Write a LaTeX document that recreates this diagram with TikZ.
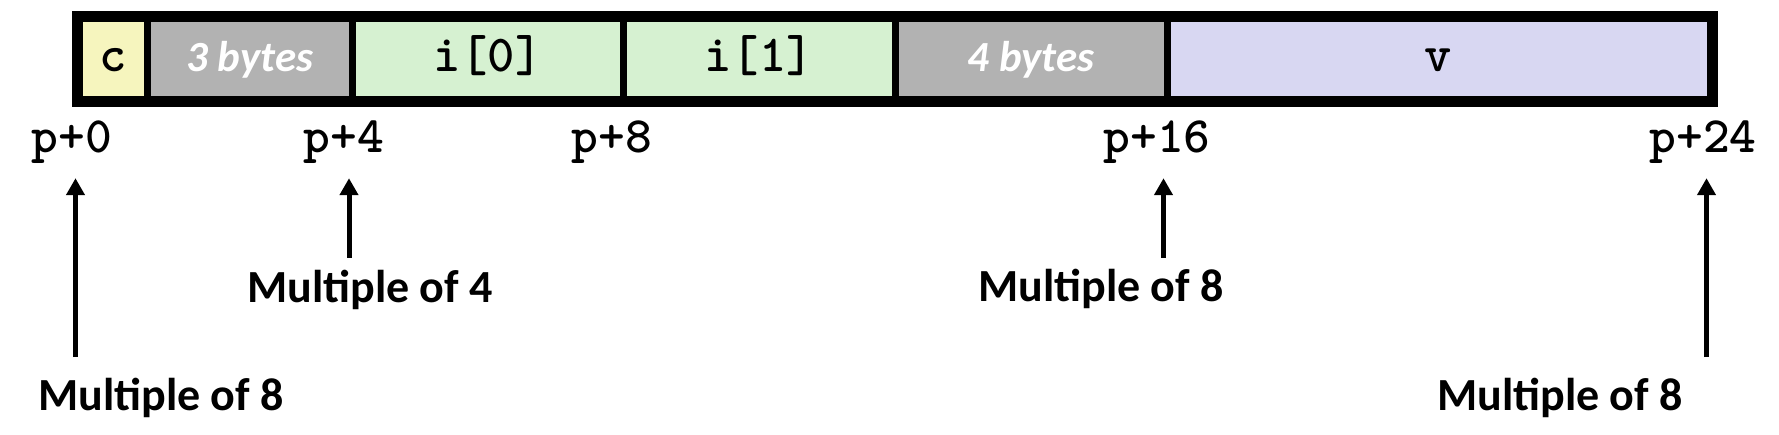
\documentclass[tikz,border=0pt]{standalone}
\usepackage{fontspec}
\usepackage{xcolor}
\usepackage{tikz}
\usetikzlibrary{positioning,calc,arrows.meta}
\newfontfamily\labelfont{Carlito}
\definecolor{charfill}{RGB}{246,245,190}
\definecolor{intfill}{RGB}{214,241,209}
\definecolor{dblfill}{RGB}{216,215,242}
\definecolor{padfill}{RGB}{178,178,178}

\tikzset{
  cell/.style={draw=black, line width=7pt, minimum height=81pt, inner sep=0pt,
    anchor=west, text height=34pt, text depth=8pt},
  celltext/.style={font=\ttfamily\bfseries\fontsize{52}{60}\selectfont},
  padtext/.style={font=\labelfont\bfseries\itshape\fontsize{43}{50}\selectfont, text=white},
  offset/.style={font=\ttfamily\bfseries\fontsize{51}{60}\selectfont, anchor=base,
    text depth=8pt, inner ysep=17pt, inner xsep=0pt},
  note/.style={font=\labelfont\bfseries\fontsize{46}{54}\selectfont, anchor=base west, inner sep=0pt},
  ptr/.style={-{Triangle[width=18pt,length=17pt]}, line width=5pt},
}

\begin{document}
\begin{tikzpicture}[x=1pt,y=-1pt]
    \useasboundingbox (0,0) rectangle (1779,435);

    % Struct fields
    \node[cell, celltext, fill=charfill, minimum width=68pt] (c) at (75.5,59) {c};
    \node[cell, padtext, fill=padfill, minimum width=205.5pt] (pad3) at (143.5,59) {3 bytes};
    \node[cell, celltext, fill=intfill, minimum width=270.5pt] (i0) at (349,59) {i[0]};
    \node[cell, celltext, fill=intfill, minimum width=272pt] (i1) at (619.5,59) {i[1]};
    \node[cell, padtext, fill=padfill, minimum width=272pt] (pad4) at (891.5,59) {4 bytes};
    \node[cell, celltext, fill=dblfill, minimum width=543pt] (v) at (1163.5,59) {v};

    % Outer frame
    \draw[line width=8pt] (c.north west) rectangle (v.south east);

    % Offsets
    \node[offset] (p0) at (72,153) {p+0};
    \node[offset] (p4) at (344,153) {p+4};
    \node[offset] (p8) at (612,153) {p+8};
    \node[offset] (p16) at (1157,153) {p+16};
    \node[offset] (p24) at (1703,153) {p+24};

    % Alignment notes
    \node[note] (m0) at (38,410) {Multiple of 8};
    \node[note] (m4) at (247,303) {Multiple of 4};
    \node[note] (m16) at (978,302) {Multiple of 8};
    \node[note] (m24) at (1437,410) {Multiple of 8};

    \coordinate (t0) at (75.5,357);
    \coordinate (t4) at (349,258);
    \coordinate (t16) at (1163.5,258);
    \coordinate (t24) at (1706.5,357);

    \draw[ptr] (t0) -- (t0 |- p0.south);
    \draw[ptr] (t4) -- (t4 |- p4.south);
    \draw[ptr] (t16) -- (t16 |- p16.south);
    \draw[ptr] (t24) -- (t24 |- p24.south);
\end{tikzpicture}
\end{document}
